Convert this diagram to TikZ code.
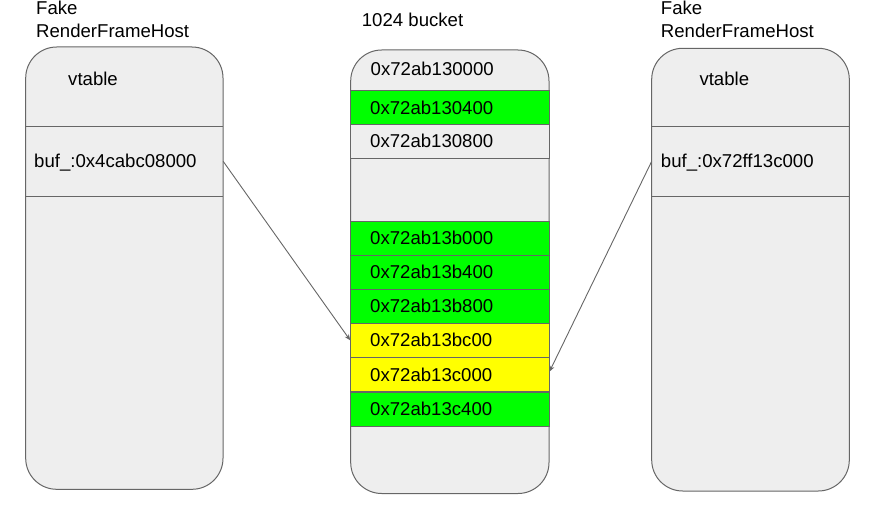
\documentclass[tikz,border=0pt]{standalone}
\usepackage{fontspec}
\setmainfont{Liberation Sans}
\usetikzlibrary{arrows.meta}
\definecolor{boxfill}{HTML}{EEEEEE}
\definecolor{boxline}{HTML}{666666}
\definecolor{cellgreen}{HTML}{00FF00}
\definecolor{cellyellow}{HTML}{FFFF00}
\tikzset{
  lbl/.style={inner sep=0pt, anchor=west, font=\fontsize{18.6}{23}\selectfont, align=left},
  shell/.style={draw=boxline, fill=boxfill, line width=1pt, rounded corners=31pt},
  sep/.style={draw=boxline, line width=1pt},
  cell/.style={draw=boxline, line width=1pt, rectangle, minimum width=198.3pt, minimum height=34pt,
     inner xsep=19.5pt, inner ysep=0pt, text width=159.3pt, align=left, font=\fontsize{18.6}{22}\selectfont},
  field/.style={rectangle, inner sep=0pt, minimum width=197.3pt, minimum height=70.7pt},
  ptr/.style={draw=boxline, line width=0.9pt, -{Stealth[length=6pt,width=5pt]}},
}
\begin{document}
\begin{tikzpicture}[x=1pt,y=-1pt]
\useasboundingbox (0,0) rectangle (872,511);
% left box
\draw[shell] (25.7,47) rectangle (223,489.3);
\draw[sep] (25.7,126) -- (223,126);
\draw[sep] (25.7,196.7) -- (223,196.7);
\node[lbl] (ltitle) at (36,19.5) {Fake\\RenderFrameHost};
\node[lbl] (lvt) at (68,79) {vtable};
\node[field] (lbuf) at (124.35,161.35) {};
\node[lbl] (lbuftxt) at (34,163) {buf\_:0x4cabc08000};
% right box
\draw[shell] (651.7,48.3) rectangle (849.3,491);
\draw[sep] (651.7,126) -- (849.3,126);
\draw[sep] (651.7,196.7) -- (849.3,196.7);
\node[lbl] (rtitle) at (660.7,19.5) {Fake\\RenderFrameHost};
\node[lbl] (rvt) at (699.3,79) {vtable};
\node[field] (rbuf) at (750.5,161.35) {};
\node[lbl] (rbuftxt) at (660.7,163) {buf\_:0x72ff13c000};
% middle box
\node[lbl] (mtitle) at (361.7,20) {1024 bucket};
\draw[shell] (350.7,50) rectangle (549,493.5);
\node[lbl] (m0) at (370.5,68.5) {0x72ab130000};
\node[cell, fill=cellgreen]  (m1) at (449.85,107.5) {0x72ab130400};
\node[cell, fill=boxfill]    (m2) at (449.85,141.3) {0x72ab130800};
\draw[sep] (350.7,158.3) -- (549,158.3);
\node[cell, fill=cellgreen]  (m3) at (449.85,238) {0x72ab13b000};
\node[cell, fill=cellgreen]  (m4) at (449.85,272.3) {0x72ab13b400};
\node[cell, fill=cellgreen]  (m5) at (449.85,306.3) {0x72ab13b800};
\node[cell, fill=cellyellow] (m6) at (449.85,340.3) {0x72ab13bc00};
\node[cell, fill=cellyellow] (m7) at (449.85,374.6) {0x72ab13c000};
\node[cell, fill=cellgreen]  (m8) at (449.85,409) {0x72ab13c400};
% pointers
\draw[ptr] (lbuf.east) -- (m6.west);
\draw[ptr] (rbuf.west) -- ([yshift=3pt]m7.east);
\end{tikzpicture}
\end{document}
